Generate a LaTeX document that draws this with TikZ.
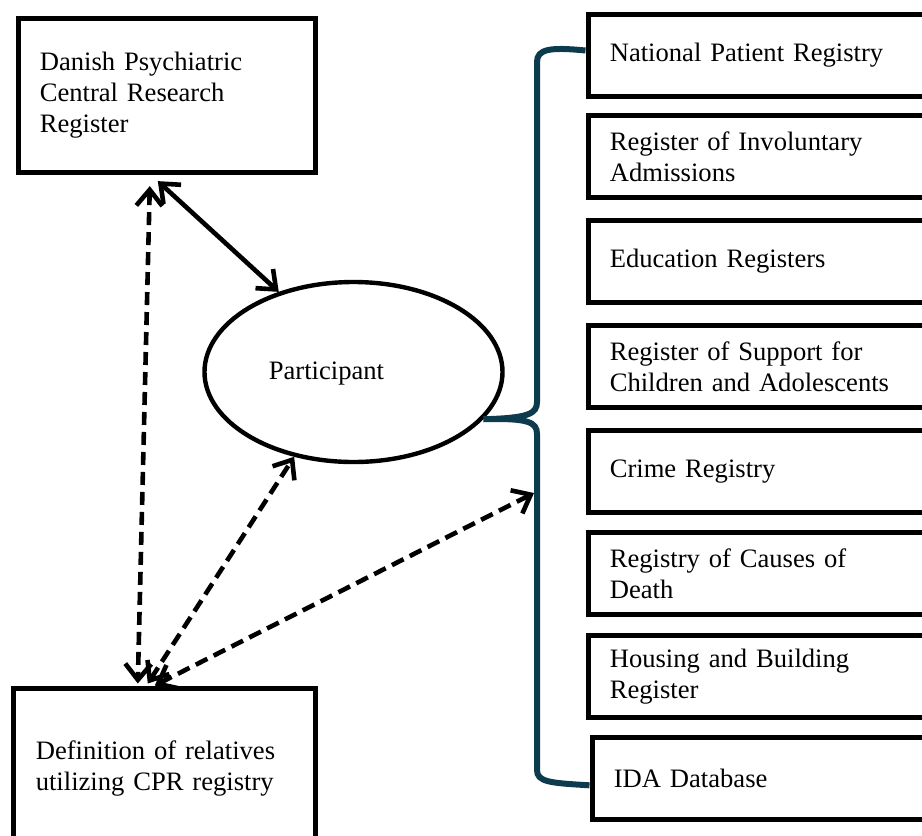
\documentclass[tikz,border=0pt]{standalone}
\usepackage{fontspec}
\setmainfont{Liberation Serif}
\usepackage{tikz}
\usetikzlibrary{arrows.meta,shapes.geometric}
\tikzset{>={Straight Barb[length=8pt,width=13pt]}}
\definecolor{bracecol}{RGB}{13,59,78}
\newcommand{\regfont}{\fontsize{13.3}{15.5}\selectfont}
\tikzstyle{register}=[rectangle,draw,line width=2.8pt,anchor=north west,inner xsep=10.75pt,align=left,font=\regfont]
\tikzstyle{source}=[register,minimum width=175pt,minimum height=41pt,text width=153.5pt]
\tikzstyle{link}=[line width=2.3pt,<->]
\tikzstyle{dashlink}=[link,dash pattern=on 6.5pt off 3.5pt]
\tikzstyle{brace}=[draw=bracecol,line width=3pt]

\begin{document}
\begin{tikzpicture}[x=0.5pt,y=-0.5pt]
	\useasboundingbox (0,0) rectangle (922,836);

	\node[register, minimum width=148.5pt, minimum height=77pt, text width=127pt] (dpcr) at (15.5,15.5) {Danish Psychiatric\\Central Research\\Register};
	\node[register, minimum width=151pt, minimum height=80pt, text width=128.5pt, inner xsep=11.25pt] (rel) at (10.5,685.5) {Definition of relatives\\utilizing CPR registry};
	\node[ellipse, draw, line width=2.2pt, minimum width=149pt, minimum height=90pt, inner sep=0pt, label={[font=\regfont,xshift=-13.5pt,yshift=-1pt]center:Participant}] (part) at (353.5,372) {};

	\node[source] (reg1) at (585.5,11.7) {National Patient Registry};
	\node[source] (reg2) at (585.5,112.5) {Register of Involuntary\\Admissions};
	\node[source] (reg3) at (585.5,217.5) {Education Registers};
	\node[source] (reg4) at (585.5,322.5) {Register of Support for\\Children and Adolescents};
	\node[source] (reg5) at (585.5,427.5) {Crime Registry};
	\node[source] (reg6) at (585.5,529.5) {Registry of Causes of\\Death};
	\node[source] (reg7) at (585.5,632.5) {Housing and Building\\Register};
	\node[source] (reg8) at (589.5,734.5) {IDA Database};

	\coordinate (btop) at ([yshift=2.5pt]reg1.west);
	\coordinate (bbot) at ([yshift=-3.5pt]reg8.west);
	\coordinate (bracehit) at (534,493);
	\draw[brace] (btop) .. controls (550,47) and (537,49) .. (537,62) -- (537,402)
		.. controls (537,414) and (528,418) .. (part.-20)
		.. controls (528,418) and (537,422) .. (537,434) -- (537,770)
		.. controls (537,782) and (550,783) .. (bbot);

	\draw[link] ([xshift=-4.5pt,yshift=-3pt]dpcr.south) -- (part.133);
	\draw[dashlink] ([xshift=-8.5pt,yshift=-5.5pt]dpcr.south) -- ([xshift=-13.25pt,yshift=1pt]rel.north);
	\draw[dashlink] ([xshift=-8.25pt,yshift=1pt]rel.north) -- (part.235);
	\draw[dashlink] ([xshift=-4.75pt]rel.north) -- (bracehit);
\end{tikzpicture}
\end{document}
